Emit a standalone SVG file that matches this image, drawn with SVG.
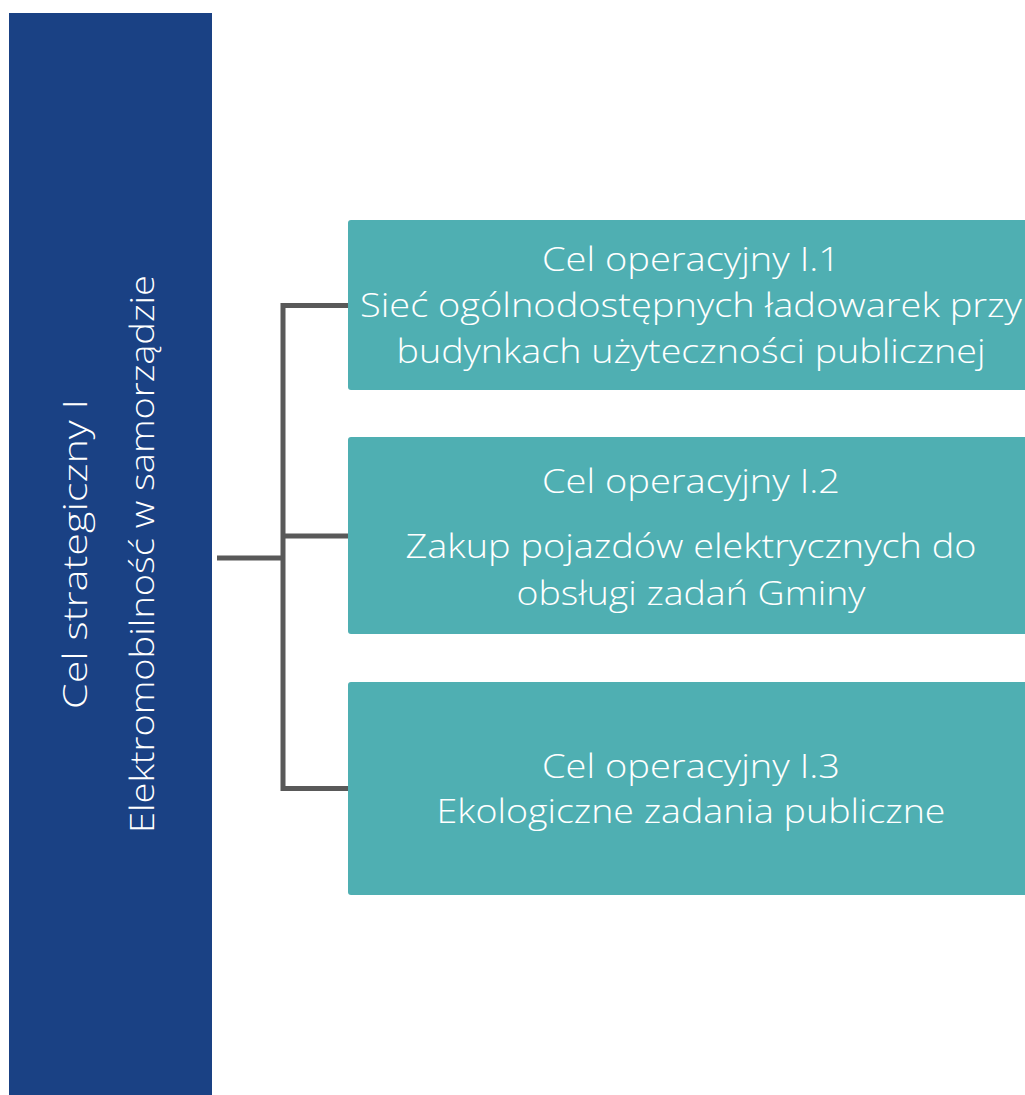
<svg xmlns="http://www.w3.org/2000/svg" width="1025" height="1095" viewBox="0 0 1025 1095">
<style>
.txt{font-family:"Open Sans","Noto Sans","Liberation Sans",sans-serif;font-size:33px;font-weight:300;fill:#ffffff;text-anchor:middle}
.op{fill:#4FAFB2}
.conn{stroke:#595959;stroke-width:5;fill:none;stroke-linecap:butt;stroke-linejoin:miter}
</style>
<rect width="1025" height="1095" fill="#ffffff"/>
<g id="strategic">
<rect x="9" y="13" width="203" height="1085" fill="#1A4184"/>
<text class="txt" transform="translate(87,554) rotate(-90)" textLength="310" lengthAdjust="spacingAndGlyphs">Cel strategiczny I</text>
<text class="txt" transform="translate(154,554) rotate(-90)" textLength="558" lengthAdjust="spacingAndGlyphs">Elektromobilność w samorządzie</text>
</g>
<g id="connectors">
<line class="conn" x1="217" y1="558" x2="283" y2="558"/>
<path class="conn" d="M348,305.5 H283 V788.5 H348"/>
<line class="conn" x1="283" y1="536" x2="348" y2="536"/>
</g>
<g id="op1">
<rect class="op" x="348" y="220" width="690" height="170" rx="3"/>
<text class="txt" x="691" y="271" textLength="298" lengthAdjust="spacingAndGlyphs">Cel operacyjny I.1</text>
<text class="txt" x="691" y="317" textLength="662" lengthAdjust="spacingAndGlyphs">Sieć ogólnodostępnych ładowarek przy</text>
<text class="txt" x="691" y="363" textLength="589" lengthAdjust="spacingAndGlyphs">budynkach użyteczności publicznej</text>
</g>
<g id="op2">
<rect class="op" x="348" y="437" width="690" height="197" rx="3"/>
<text class="txt" x="691" y="493" textLength="298" lengthAdjust="spacingAndGlyphs">Cel operacyjny I.2</text>
<text class="txt" x="691" y="558" textLength="571" lengthAdjust="spacingAndGlyphs">Zakup pojazdów elektrycznych do</text>
<text class="txt" x="691" y="605" textLength="349" lengthAdjust="spacingAndGlyphs">obsługi zadań Gminy</text>
</g>
<g id="op3">
<rect class="op" x="348" y="682" width="690" height="213" rx="3"/>
<text class="txt" x="691" y="778" textLength="298" lengthAdjust="spacingAndGlyphs">Cel operacyjny I.3</text>
<text class="txt" x="691" y="823" textLength="509" lengthAdjust="spacingAndGlyphs">Ekologiczne zadania publiczne</text>
</g>
</svg>
